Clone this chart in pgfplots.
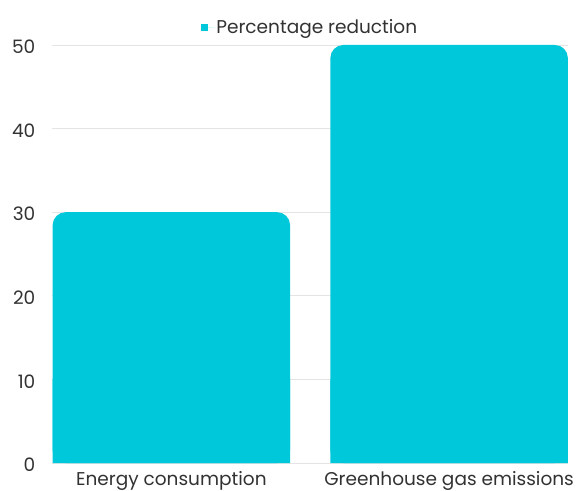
\documentclass[border=0pt]{standalone}
\usepackage{pgfplots}
\pgfplotsset{compat=1.18}
\usepackage{fontspec}
\setmainfont{Poppins}
\definecolor{barc}{RGB}{0,200,219}
\definecolor{txt}{RGB}{50,50,50}
\definecolor{gridc}{RGB}{228,228,228}
\begin{document}
\begin{tikzpicture}
\path[use as bounding box] (0,0) rectangle (579bp,491bp);
\begin{axis}[
  at={(52.5bp,28bp)}, anchor=south west,
  scale only axis, width=515.5bp, height=418bp,
  ybar, bar width=237.5bp, bar shift=0pt,
  xmin=-0.428, xmax=1.428, ymin=0, ymax=50,
  xtick={0,1}, xticklabels={Energy consumption, Greenhouse gas emissions},
  ytick={0,10,...,50},
  axis line style={draw=none}, tick style={draw=none},
  ymajorgrids, grid style={gridc, line width=0.9pt},
  clip=false,
  font=\fontsize{18.5bp}{21bp}\selectfont,
  /pgf/number format/assume math mode=true,
  yticklabel style={text=txt, inner sep=0pt, xshift=-17bp, yshift=-2bp},
  xticklabel style={text=txt, inner sep=0pt, yshift=-4bp},
  legend style={draw=none, at={(0.5,1)}, anchor=south, yshift=8bp, text=txt,
    legend cell align=left, inner sep=0pt},
  legend image code/.code={\fill[barc, sharp corners] (0bp,-3.5bp) rectangle (7bp,3.5bp);
    \path (0bp,0bp) -- (13bp,0bp);},
]
\addplot[fill=barc, draw=none, rounded corners=13bp] coordinates {(0,30) (1,50)};
\addlegendentry{Percentage reduction}
\addplot[fill=barc, draw=none, forget plot] coordinates {(0,10) (1,10)};
\end{axis}
\end{tikzpicture}
\end{document}
